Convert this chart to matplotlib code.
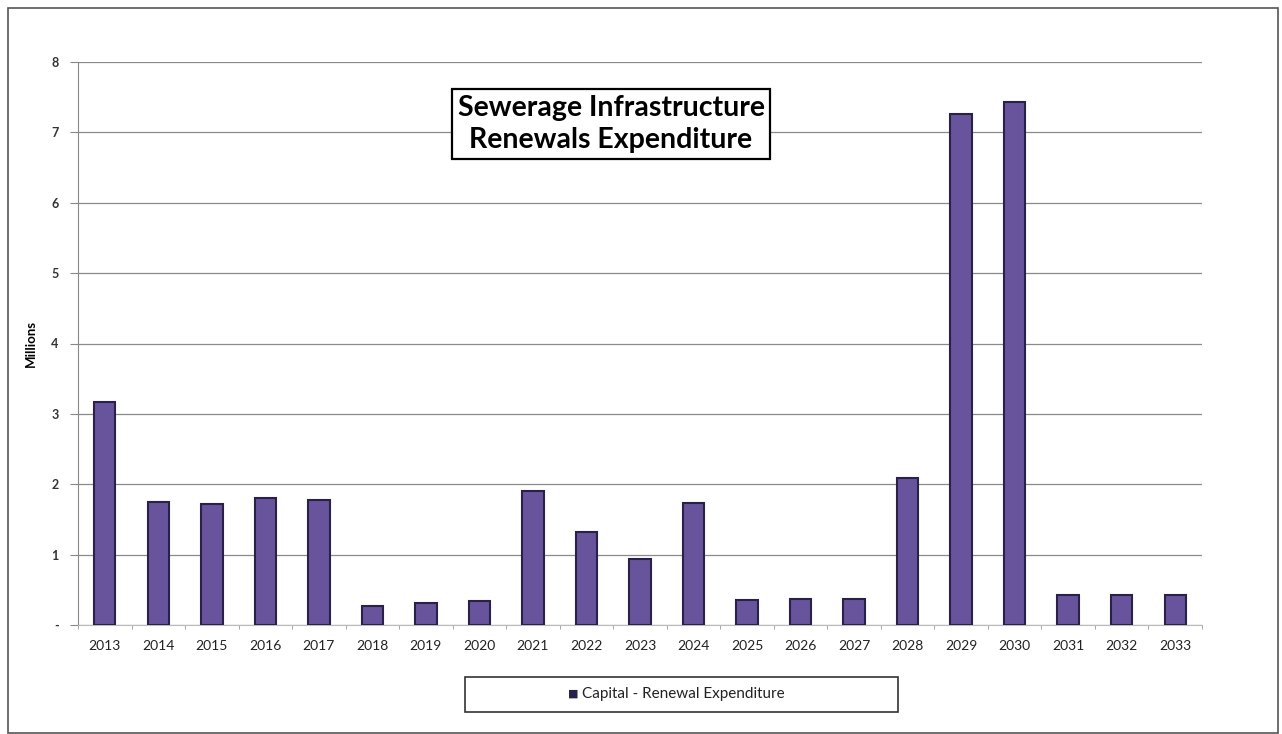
import matplotlib
matplotlib.use('Agg')
import matplotlib.pyplot as plt
from matplotlib.patches import Rectangle
import numpy as np

years = ['2013', '2014', '2015', '2016', '2017', '2018', '2019', '2020', '2021', '2022', '2023',
         '2024', '2025', '2026', '2027', '2028', '2029', '2030', '2031', '2032', '2033']
renewals = [3.17, 1.75, 1.72, 1.80, 1.77, 0.27, 0.31, 0.34, 1.90, 1.32, 0.94,
            1.73, 0.36, 0.37, 0.37, 2.09, 7.26, 7.43, 0.42, 0.42, 0.43]
ytick_labels = ['-', '1', '2', '3', '4', '5', '6', '7', '8']

plt.rcParams['font.family'] = ['Lato', 'DejaVu Sans']

fig = plt.figure(figsize=(12.82, 7.34), dpi=100)
ax = fig.add_axes([78 / 1282, 1 - 625 / 734, 1124 / 1282, 563 / 734])

x = np.arange(len(years))
ax.bar(x, renewals, width=0.4, color='#67549c', edgecolor='#2a2148', linewidth=1.5, zorder=3)

ax.set_xlim(-0.5, len(years) - 0.5)
ax.set_ylim(0, 8)
ax.set_yticks(range(9))
ax.set_yticklabels(ytick_labels, fontsize=9, fontweight='bold', color='#333333')
ax.set_xticks(x)
ax.set_xticklabels(years, fontsize=10, color='#222222')
ax.set_xticks(np.arange(len(years) + 1) - 0.5, minor=True)
ax.tick_params(axis='x', which='major', length=0, pad=11)
ax.tick_params(axis='x', which='minor', length=3, color='#999999')
ax.tick_params(axis='y', length=6, color='#888888', pad=8)

ax.grid(axis='y', color='#8a8a8a', linewidth=0.9, zorder=0)
for side in ['top', 'right']:
    ax.spines[side].set_visible(False)
ax.spines['left'].set_color('#888888')
ax.spines['bottom'].set_color('#bbbbbb')

ax.set_ylabel('Millions', fontsize=9.5, fontweight='bold', labelpad=10)

# chart title in a boxed label
fig.text(611 / 1282, 1 - 124 / 734, 'Sewerage Infrastructure\nRenewals Expenditure',
         ha='center', va='center', fontsize=20.5, fontweight='bold', linespacing=1.3,
         bbox=dict(boxstyle='square,pad=0.2', facecolor='white', edgecolor='black', linewidth=1.6))

# legend box below the axis
fig.patches.append(Rectangle((465 / 1282, 1 - 712 / 734), 433 / 1282, 35 / 734,
                             transform=fig.transFigure, facecolor='white',
                             edgecolor='#333333', linewidth=1.2))
fig.text(578 / 1282, 1 - 694 / 734, '\u25A0', ha='right', va='center',
         fontsize=8, color='#2a2148', family='DejaVu Sans')
fig.text(582 / 1282, 1 - 694 / 734, 'Capital - Renewal Expenditure',
         ha='left', va='center', fontsize=11, color='#222222')

# outer frame
fig.patches.append(Rectangle((8 / 1282, 1 / 734), 1270 / 1282, 725 / 734,
                             transform=fig.transFigure, facecolor='none',
                             edgecolor='#555555', linewidth=1.2))

fig.savefig('out.png', dpi=100, facecolor='white')
